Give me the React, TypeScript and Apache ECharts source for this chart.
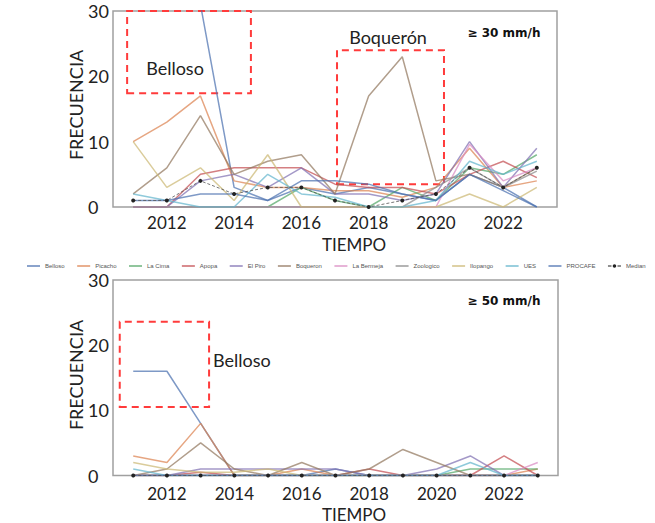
import React, { useEffect, useRef } from "react";
import * as echarts from "echarts";

const years = [2011, 2012, 2013, 2014, 2015, 2016, 2017, 2018, 2019, 2020, 2021, 2022, 2023];
const yearTicks = [2012, 2014, 2016, 2018, 2020, 2022];
const yTicks = [0, 10, 20, 30];

const stations = ["Belloso", "Picacho", "La Cima", "Apopa", "El Piro", "Boqueron", "La Bermeja", "Zoologico", "Ilopango", "UES", "PROCAFE"];

// >= 30 mm/h
const belloso30 = [38, 40, 31, 3, 1, 3, 2, 3, 2, 1, 5, 3, 0];
const picacho30 = [10, 13, 17, 4, 3, 3, 2.5, 2.5, 1.5, 3, 9, 3, 4];
const laCima30 = [0, 0, 0, 0, 0, 3, 1, 0, 3, 1, 6, 5, 8];
const apopa30 = [0, 0, 5, 6, 6, 6, 3.5, 3, 3, 2, 5, 7, 4.5];
const elPiro30 = [0, 0, 4, 5, 3, 6, 2, 2, 1, 2, 10, 3, 9];
const boqueron30 = [2, 6, 14, 5, 7, 8, 2, 17, 23, 4, 5, 3, 6];
const laBermeja30 = [0, 0, 0, 0, 0, 0, 0, 0, 0, 0, 9.6, 4, 6];
const zoologico30 = [0, 0, 0, 0, 0, 0, 0, 0, 0, 3, 6, 3, 5.5];
const ilopango30 = [10, 3, 6, 1, 8, 0, 0, 0, 0, 0, 2, 0, 3];
const ues30 = [2, 1, 0, 0, 5, 2, 1.5, 0, 0, 1, 7, 5, 7];
const procafe30 = [1, 1, 2, 2, 1, 4, 4, 3.5, 2, 1, 5, 2.5, 0];
const median30 = [1, 1, 4, 2, 3, 3, 1, 0, 1, 2, 6, 3, 6];

// >= 50 mm/h
const belloso50 = [16, 16, 8, 0, 0, 0, 1, 0, 0, 0, 0, 0, 0];
const picacho50 = [3, 2, 8, 0, 0, 1, 0, 0, 0, 0, 0, 0, 1];
const laCima50 = [0, 0, 0, 0, 0, 0, 0, 0, 0, 0, 1, 1, 1];
const apopa50 = [0, 0, 0.5, 0, 0, 0, 0, 1, 0, 0, 0, 3, 0];
const elPiro50 = [0, 0, 1, 1, 1, 1, 1, 0, 0, 1, 3, 0, 0];
const boqueron50 = [0, 1, 5, 1, 0, 2, 0, 1, 4, 2, 0, 0, 0];
const laBermeja50 = [0, 0, 0, 0, 0, 0, 0, 0, 0, 0, 0, 0, 2];
const zoologico50 = [0, 0, 0, 0, 0, 0, 0, 0, 0, 0, 0, 0, 0];
const ilopango50 = [2, 1, 0.5, 0.5, 1, 0, 0, 0, 0, 0, 0, 0, 0];
const ues50 = [1, 0, 0, 0, 0, 0, 0, 0, 0, 0, 2, 0, 0];
const procafe50 = [0, 0, 0, 0, 0, 0, 0, 0, 0, 0, 0, 0, 0];
const median50 = [0, 0, 0, 0, 0, 0, 0, 0, 0, 0, 0, 0, 0];

const top30 = [belloso30, picacho30, laCima30, apopa30, elPiro30, boqueron30, laBermeja30, zoologico30, ilopango30, ues30, procafe30];
const top50 = [belloso50, picacho50, laCima50, apopa50, elPiro50, boqueron50, laBermeja50, zoologico50, ilopango50, ues50, procafe50];

// annotation boxes in data coordinates [x0, y0, x1, y1]
const bellosoBox30 = [2010.82, 17.4, 2014.5, 30];
const boqueronBox30 = [2017.06, 3.5, 2020.24, 24];
const bellosoBox50 = [2010.6, 10.5, 2013.25, 23.6];

const palette = ["#4c72b0", "#dd8452", "#55a868", "#c44e52", "#8172b3", "#937860", "#da8bc3", "#8c8c8c", "#ccb974", "#64b5cd", "#4c72b0"];
const RED = "#ff3b3b";
const FONT = "Lato";

const LINE_ICON = "path://M0,0H13V1.3H0Z";
const MEDIAN_ICON =
  "path://M0,3.5h3.5v1h-3.5z M9.5,3.5h3.5v1h-3.5z M4.7,4a1.8,1.8 0 1,0 3.6,0a1.8,1.8 0 1,0 -3.6,0z";

function toPairs(arr: number[]) {
  return years.map((y, i) => [y, arr[i]]);
}

function box(b: number[]) {
  return [[{ xAxis: b[0], yAxis: b[1] }, { xAxis: b[2], yAxis: b[3] }]];
}

export default function App() {
  const ref = useRef<HTMLDivElement>(null);
  useEffect(() => {
    if (!ref.current) return;
    const chart = echarts.init(ref.current, null, { renderer: "svg" });

    const markAreaStyle = {
      silent: true,
      label: { show: false },
      itemStyle: { color: "rgba(0,0,0,0)", borderColor: RED, borderWidth: 2, borderType: [7, 5] },
    };

    const series: any[] = [];
    [top30, top50].forEach((group, gi) => {
      group.forEach((arr, si) => {
        const s: any = {
          name: stations[si],
          type: "line",
          xAxisIndex: gi,
          yAxisIndex: gi,
          data: toPairs(arr),
          symbol: "none",
          showSymbol: false,
          clip: true,
          color: palette[si],
          lineStyle: { width: 1.5, opacity: 0.72, color: palette[si] },
          emphasis: { disabled: true },
          z: 2,
        };
        if (gi === 0 && si === 0) s.markArea = { ...markAreaStyle, data: box(bellosoBox30) };
        if (gi === 0 && si === 5) s.markArea = { ...markAreaStyle, data: box(boqueronBox30) };
        if (gi === 1 && si === 0) s.markArea = { ...markAreaStyle, data: box(bellosoBox50) };
        series.push(s);
      });
      series.push({
        name: "Median",
        type: "line",
        xAxisIndex: gi,
        yAxisIndex: gi,
        data: toPairs(gi === 0 ? median30 : median50),
        symbol: "circle",
        symbolSize: 4,
        showSymbol: true,
        color: "#222",
        itemStyle: { color: "#222" },
        lineStyle: { width: 1, type: [3, 2], color: "#555", opacity: 0.8 },
        emphasis: { disabled: true },
        z: 3,
      });
    });

    const xAxisBase = (gi: number, margin: number) => ({
      type: "value",
      gridIndex: gi,
      min: 2010.4,
      max: 2023.6,
      axisLine: { show: false },
      axisTick: { show: false },
      splitLine: { show: false },
      axisLabel: {
        customValues: yearTicks,
        formatter: (v: number) => String(v),
        fontSize: 17,
        fontFamily: FONT,
        color: "#222",
        margin,
      },
    });
    const yAxisBase = (gi: number) => ({
      type: "value",
      gridIndex: gi,
      min: 0,
      max: 30,
      interval: 10,
      axisLine: { show: false },
      axisTick: { show: false },
      splitLine: { show: false },
      axisLabel: {
        customValues: yTicks,
        fontSize: 18,
        fontFamily: FONT,
        color: "#222",
        align: "left",
        margin: 25,
      },
    });

    const txt = (x: number, y: number, text: string, extra: any = {}, el: any = {}) => ({
      type: "text",
      x,
      y,
      silent: true,
      ...el,
      style: { text, fontFamily: FONT, fontSize: 18, fill: "#222", align: "center", verticalAlign: "middle", ...extra },
    });

    chart.setOption({
      animation: false,
      backgroundColor: "#ffffff",
      grid: [
        { left: 113, top: 11, width: 444, height: 196, show: true, borderColor: "#a0a0a0", borderWidth: 1.5, backgroundColor: "transparent" },
        { left: 113, top: 280, width: 445, height: 195.5, show: true, borderColor: "#a0a0a0", borderWidth: 1.5, backgroundColor: "transparent" },
      ],
      xAxis: [xAxisBase(0, 7), xAxisBase(1, 9)],
      yAxis: [yAxisBase(0), yAxisBase(1)],
      legend: {
        data: [
          ...stations.map((n) => ({ name: n, icon: LINE_ICON })),
          { name: "Median", icon: MEDIAN_ICON },
        ],
        left: 22,
        top: 258,
        width: 640,
        itemWidth: 13,
        itemHeight: 8,
        itemGap: 12.5,
        textStyle: { fontSize: 6, color: "#555", fontFamily: "Liberation Sans" },
        selectedMode: false,
      },
      series,
      graphic: [
        txt(76, 105, "FRECUENCIA", {}, { rotation: Math.PI / 2 }),
        txt(76, 375, "FRECUENCIA", {}, { rotation: Math.PI / 2 }),
        txt(354, 244, "TIEMPO", { fontSize: 17 }),
        txt(354, 514, "TIEMPO", { fontSize: 17 }),
        txt(175, 68, "Belloso"),
        txt(388, 37, "Boquerón"),
        txt(213, 360, "Belloso", { align: "left" }),
        txt(504, 33, "≥ 30 mm/h", { fontFamily: "DejaVu Sans", fontWeight: "bold", fontSize: 12, fill: "#111" }),
        txt(504, 301, "≥ 50 mm/h", { fontFamily: "DejaVu Sans", fontWeight: "bold", fontSize: 12, fill: "#111" }),
      ],
    });
    return () => chart.dispose();
  }, []);
  return <div ref={ref} style={{ position: "fixed", left: 0, top: 0, width: 655, height: 523, background: "#fff" }} />;
}
